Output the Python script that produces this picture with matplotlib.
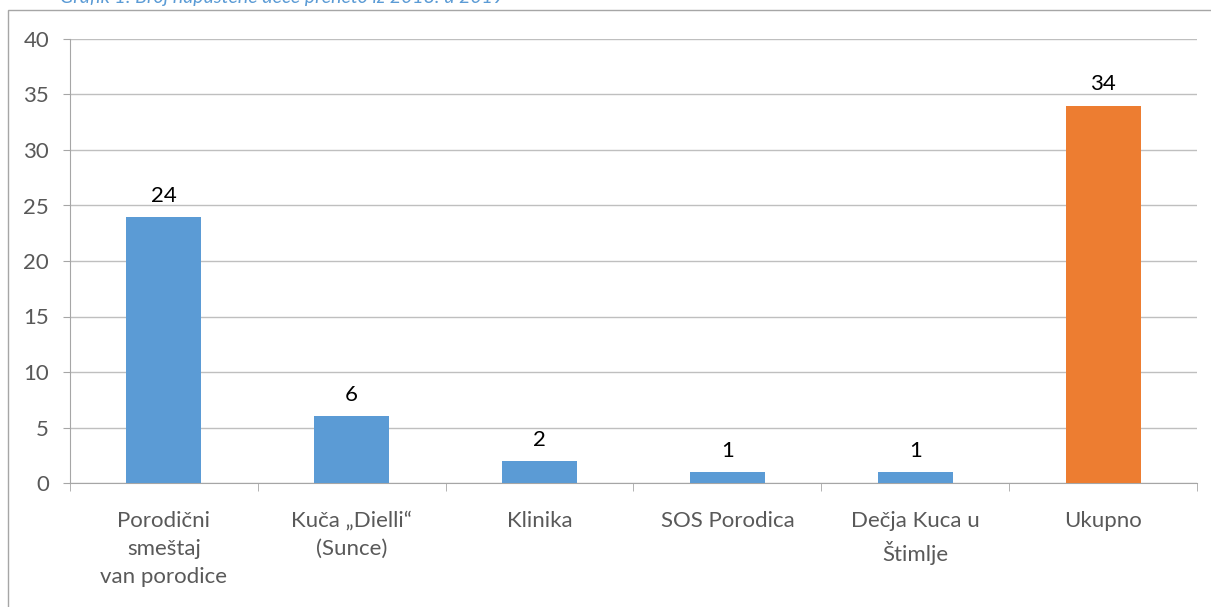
import matplotlib
matplotlib.use("Agg")
import matplotlib.pyplot as plt
from matplotlib.patches import Rectangle

categories = ["Porodični\nsmeštaj\nvan porodice", "Kuča „Dielli“\n(Sunce)", "Klinika",
              "SOS Porodica", "Dečja Kuca u\nŠtimlje", "Ukupno"]
values = [24, 6, 2, 1, 1, 34]
colors = ["#5B9BD5"] * 5 + ["#ED7D31"]
caption = "Grafik 1: Broj napuštene dece preneto iz 2018. u 2019"

plt.rcParams["font.family"] = ["Lato", "DejaVu Sans"]

fig = plt.figure(figsize=(12.11, 6.07), dpi=100)
ax = fig.add_axes([70 / 1211, 1 - 483 / 607, 1127 / 1211, 444 / 607])

x = list(range(len(values)))
bars = ax.bar(x, values, width=0.4, color=colors, zorder=3)
for xi, v in zip(x, values):
    ax.text(xi, v + 1.0, str(v), ha="center", va="bottom", fontsize=16, color="black")

ax.set_xlim(-0.5, len(values) - 0.5)
ax.set_ylim(0, 40)
ax.set_yticks(range(0, 41, 5))
ax.yaxis.grid(True, color="#BFBFBF", linewidth=1, zorder=0)

ax.set_xticks(x)
ax.set_xticklabels(categories, linespacing=1.5)
ax.set_xticks([i - 0.5 for i in range(len(values) + 1)], minor=True)
ax.tick_params(axis="x", which="major", length=0, pad=20, labelsize=16, labelcolor="#595959")
ax.tick_params(axis="x", which="minor", length=6, color="#A6A6A6", direction="out")
ax.tick_params(axis="y", length=5, color="#A6A6A6", labelsize=16, labelcolor="#595959", pad=10)

for s in ["top", "right"]:
    ax.spines[s].set_visible(False)
for s in ["left", "bottom"]:
    ax.spines[s].set_color("#A6A6A6")

fig.patches.append(Rectangle((8 / 1211, -0.1), 1.2, 1 - 10 / 607 + 0.1, transform=fig.transFigure,
                             fill=False, edgecolor="#A6A6A6", linewidth=1))
fig.text(60 / 1211, 1 - 3 / 607, caption, ha="left", va="baseline", fontsize=14,
         style="italic", color="#5B9BD5")

fig.savefig("out.png", dpi=100)
